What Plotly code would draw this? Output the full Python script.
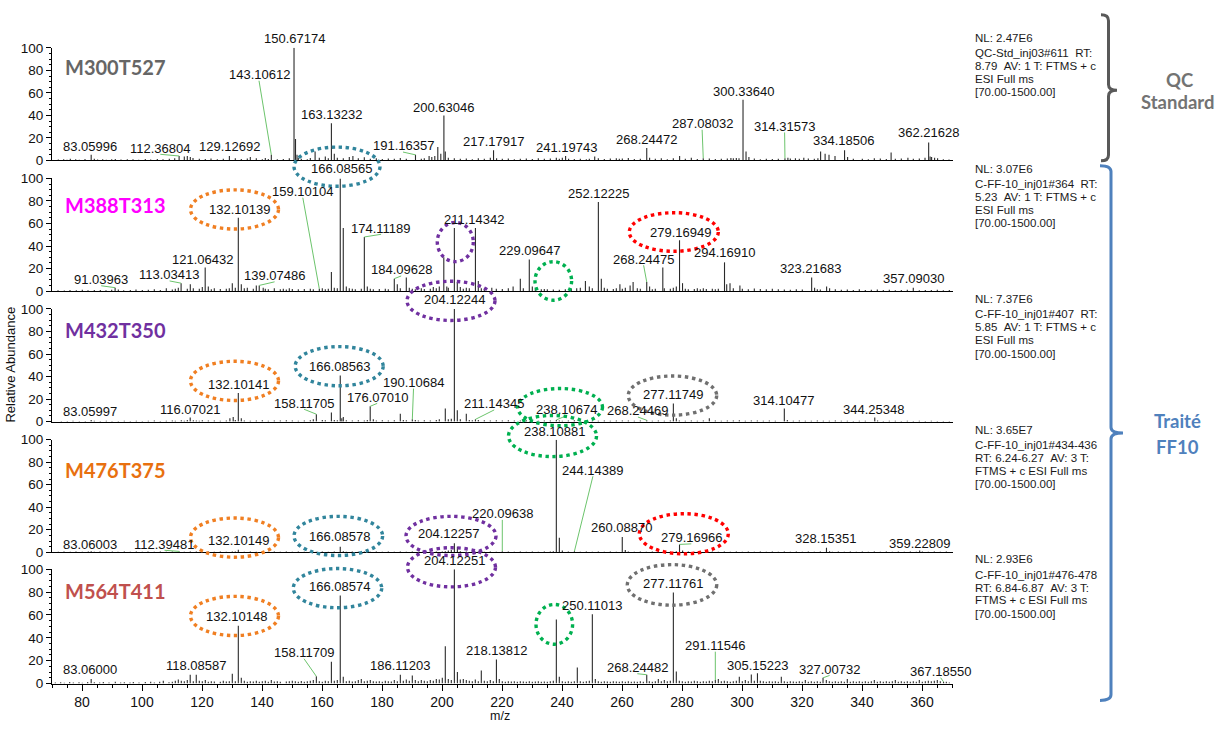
import plotly.graph_objects as go

# ---------------- data ----------------
panel_names = ["M300T527", "M388T313", "M432T350", "M476T375", "M564T411"]
panel_name_colors = ["#666666", "#FF00FF", "#7030A0", "#E8700F", "#C0504D"]

info_nl = ["NL: 2.47E6", "NL: 3.07E6", "NL: 7.37E6", "NL: 3.65E7", "NL: 2.93E6"]
info_lines = [
    ["QC-Std_inj03#611\u00a0\u00a0RT:", "8.79\u00a0\u00a0AV: 1 T: FTMS + c", "ESI Full ms", "[70.00-1500.00]"],
    ["C-FF-10_inj01#364\u00a0\u00a0RT:", "5.23\u00a0\u00a0AV: 1 T: FTMS + c", "ESI Full ms", "[70.00-1500.00]"],
    ["C-FF-10_inj01#407\u00a0\u00a0RT:", "5.85\u00a0\u00a0AV: 1 T: FTMS + c", "ESI Full ms", "[70.00-1500.00]"],
    ["C-FF-10_inj01#434-436", "RT: 6.24-6.27\u00a0\u00a0AV: 3 T:", "FTMS + c ESI Full ms", "[70.00-1500.00]"],
    ["C-FF-10_inj01#476-478", "RT: 6.84-6.87\u00a0\u00a0AV: 3 T:", "FTMS + c ESI Full ms", "[70.00-1500.00]"],
]

# Panel 1 : QC standard
p1_labels = ["83.05996", "112.36804", "129.12692", "143.10612", "150.67174", "163.13232", "191.16357",
             "200.63046", "217.17917", "241.19743", "268.24472", "287.08032", "300.33640", "314.31573",
             "334.18506", "362.21628"]
p1_label_int = [5, 4, 4, 5, 100, 33, 5, 40, 9, 4, 11, 2, 54, 2, 9, 16]
p1_label_x = [82.8, 106.1, 129.2, 139.0, 150.8, 163.1, 187.0, 200.6, 217.0, 241.4, 268.3, 286.7, 300.5,
              314.2, 333.8, 362.0]
p1_label_y = [12.5, 11.0, 12.2, 76.3, 108.2, 40.6, 13.0, 47.0, 16.9, 11.9, 18.9, 32.8, 61.5, 30.4, 17.4, 24.7]
p1_leader = [0, 1, 0, 1, 0, 0, 1, 0, 0, 0, 0, 1, 0, 1, 0, 0]
p1_minor_mz = [72.1, 73.9, 75.0, 76.1, 77.9, 79.1, 81.0, 84.1, 85.2, 86.9, 88.1, 89.9, 91.1, 93.0, 95.1, 97.0,
               98.9, 101.1, 102.9, 105.1, 107.0, 109.1, 110.9, 114.1, 115.1, 116.1, 117.0, 119.1, 121.1, 123.0,
               125.1, 127.1, 131.1, 133.1, 135.1, 136.1, 138.1, 140.1, 141.1, 142.1, 145.1, 147.1, 149.1,
               151.17, 151.67, 152.1, 153.1, 155.1, 156.1, 157.7, 159.1, 161.1, 162.1, 164.1, 165.1, 167.1,
               169.1, 170.3, 172.1, 174.1, 176.1, 178.1, 180.1, 182.1, 184.1, 186.1, 188.1, 193.1, 194.1,
               195.7, 196.6, 197.6, 198.6, 199.6, 201.1, 202.1, 204.1, 206.1, 208.1, 210.1, 212.1, 214.1,
               216.1, 218.2, 220.1, 222.1, 224.1, 226.1, 228.1, 230.1, 232.1, 234.1, 236.1, 238.1, 239.1,
               240.1, 242.2, 244.1, 246.1, 248.1, 249.1, 250.9, 252.1, 254.1, 256.1, 258.1, 259.1, 260.1,
               262.1, 264.1, 266.1, 269.2, 271.1, 273.1, 275.1, 277.1, 279.2, 281.1, 283.1, 285.1, 289.1,
               291.1, 293.1, 295.1, 296.3, 297.1, 298.1, 299.0, 301.34, 302.3, 304.1, 306.1, 308.1, 310.1,
               312.1, 315.3, 316.1, 317.8, 319.1, 320.6, 322.1, 324.1, 325.3, 326.2, 327.7, 329.0, 331.0,
               335.2, 337.1, 340.1, 342.1, 344.1, 346.1, 348.1, 349.7, 351.1, 353.1, 355.3, 357.1, 359.1,
               361.0, 362.7, 363.2, 364.2, 365.2, 367.1, 369.0]
p1_minor_int = [0.8, 1.2, 0.6, 1.5, 1.0, 0.7, 1.3, 1.6, 0.9, 1.1, 0.7, 1.0, 1.4, 0.8, 1.2, 1.0,
                0.6, 1.3, 0.8, 1.4, 1.1, 1.5, 2.0, 3.5, 4.0, 3.0, 2.2, 1.6, 1.3, 1.8,
                1.2, 1.5, 2.0, 1.4, 1.8, 3.0, 1.9, 1.2, 2.2, 1.4, 1.0, 1.3, 2.0,
                19, 5, 2.5, 1.5, 1.2, 2.2, 8, 2.5, 3.5, 2.0, 6.0, 2.5, 2.0,
                3.0, 4.0, 2.0, 2.8, 1.5, 2.0, 1.3, 1.8, 1.5, 2.2, 1.6, 1.5, 2.0,
                4.0, 3.0, 4.0, 12, 6, 8, 2.5, 2.0, 1.5, 1.8, 1.2, 2.0, 1.5,
                2.5, 2.0, 1.5, 1.8, 1.2, 1.6, 1.8, 1.3, 2.0, 1.5, 1.8, 2.4, 1.5,
                2.5, 1.6, 1.4, 1.5, 1.2, 1.6, 3.5, 2.0, 1.3, 1.8, 2.0, 1.5, 1.8,
                2.2, 1.4, 1.6, 2.5, 1.5, 2.0, 1.2, 2.0, 4.0, 1.5, 2.5, 1.4, 1.8,
                1.3, 1.6, 1.8, 2.2, 2.0, 2.2, 2.0, 8, 3, 1.8, 1.2, 1.6, 1.3,
                1.5, 2.5, 1.8, 2.0, 1.6, 2.4, 1.8, 1.6, 2.0, 8, 6, 5, 4,
                3, 1.5, 1.6, 1.2, 2.0, 1.8, 1.4, 7, 1.5, 1.8, 2.5, 1.5, 1.8,
                2.5, 3.5, 3.0, 2.5, 2.0, 1.2, 0.8]

# Panel 2 : M388T313
p2_labels = ["91.03963", "113.03413", "121.06432", "132.10139", "139.07486", "159.10104", "166.08565",
             "174.11189", "184.09628", "211.14342", "229.09647", "252.12225", "268.24475", "279.16949",
             "294.16910", "323.21683", "357.09030"]
p2_label_int = [3, 7, 21, 65, 5, 2, 100, 48, 11, 56, 28, 79, 8, 45, 25.5, 12, 3]
p2_label_x = [86.4, 109.2, 120.3, 132.5, 144.2, 153.6, 166.4, 179.7, 186.4, 210.7, 229.2, 252.0, 267.2,
              279.4, 294.2, 322.7, 357.0]
p2_label_y = [10.2, 14.5, 28.4, 72.4, 13.7, 88.4, 108.7, 55.9, 18.9, 63.7, 36.3, 86.3, 28.4, 52.2, 34.2,
              19.7, 11.0]
p2_leader = [1, 1, 0, 0, 1, 1, 0, 1, 1, 0, 0, 0, 1, 0, 0, 0, 0]
p2_minor_mz = [72.0, 74.1, 76.0, 78.1, 80.1, 82.0, 84.1, 86.1, 88.0, 89.9, 92.1, 93.9, 96.1, 98.0, 100.1,
               102.1, 104.1, 106.1, 108.1, 110.1, 111.1, 112.1, 115.1, 116.1, 117.1, 119.1, 120.1, 122.1,
               123.1, 124.1, 126.1, 128.1, 129.1, 130.1, 131.1, 133.1, 134.1, 135.1, 137.1, 138.1, 140.4,
               141.1, 142.1, 144.1, 146.1, 147.1, 148.1, 149.1, 150.1, 152.1, 154.1, 156.1, 157.1, 160.1,
               161.1, 162.1, 163.13, 164.1, 165.1, 167.09, 168.1, 169.1, 170.1, 171.1, 173.1, 175.1, 176.1,
               177.1, 179.1, 181.1, 182.1, 185.1, 186.1, 188.1, 189.1, 190.1, 191.1, 193.1, 194.1, 196.1,
               197.1, 198.1, 199.1, 200.6, 201.6, 202.1, 204.12, 205.1, 206.1, 207.1, 208.1, 209.1, 212.1,
               213.1, 214.1, 216.6, 218.1, 220.1, 222.1, 223.7, 226.1, 227.1, 230.1, 231.1, 233.1, 234.1,
               235.1, 237.1, 239.1, 241.1, 243.1, 244.9, 246.1, 247.8, 249.1, 250.1, 253.1, 254.1, 255.1,
               257.1, 258.1, 259.3, 260.1, 261.1, 262.7, 263.7, 265.1, 266.1, 269.2, 270.1, 271.1, 273.6,
               274.1, 276.1, 277.1, 278.1, 280.17, 281.1, 282.1, 284.1, 285.1, 286.1, 287.1, 288.1, 290.1,
               291.1, 292.1, 294.9, 296.0, 297.1, 299.3, 300.1, 302.1, 304.1, 306.1, 308.1, 310.1, 312.1,
               314.1, 316.1, 318.1, 320.1, 324.2, 325.1, 326.1, 328.2, 329.2, 331.1, 333.1, 335.1, 337.1,
               339.1, 341.1, 343.1, 345.1, 347.1, 349.1, 351.1, 353.1, 355.1, 359.1, 361.1, 363.1, 365.1,
               367.1, 369.1]
p2_minor_int = [0.8, 0.6, 1.0, 0.7, 1.2, 0.8, 0.9, 1.0, 0.7, 1.2, 1.3, 0.8, 1.0, 1.4, 0.9,
                1.2, 1.5, 1.0, 2.5, 1.3, 2.0, 3.0, 2.0, 6.0, 2.5, 2.0, 3.5, 4.0,
                1.5, 2.5, 1.8, 2.0, 2.5, 7.0, 3.0, 6.0, 2.5, 3.0, 2.0, 5.0, 3.0,
                2.0, 1.5, 2.5, 1.5, 2.0, 1.4, 2.5, 1.8, 1.5, 1.8, 2.0, 1.5, 2.5,
                1.6, 2.0, 17, 3.0, 2.5, 56, 4.0, 2.5, 2.0, 1.5, 2.0, 4.0, 2.0,
                1.5, 1.8, 2.0, 1.5, 6.0, 2.5, 12.0, 3.0, 2.0, 1.5, 2.5, 1.8, 2.0,
                3.5, 2.5, 4.0, 30, 4.0, 3.0, 56, 8.0, 3.5, 2.0, 3.0, 2.5, 9.0,
                2.5, 2.0, 3.0, 2.0, 1.8, 2.5, 4.0, 11.0, 2.5, 4.0, 2.0, 1.5, 1.8,
                1.5, 1.4, 1.2, 1.5, 2.0, 2.5, 3.0, 9.0, 4.0, 2.5, 11.0, 3.0, 2.0,
                1.8, 2.5, 6.0, 2.0, 3.0, 5.0, 8.0, 2.5, 2.0, 4.0, 1.5, 2.0, 21,
                2.5, 2.0, 3.0, 4.0, 7.0, 2.0, 1.5, 1.8, 2.5, 1.5, 2.5, 1.8, 2.0,
                1.6, 2.0, 6.0, 7.0, 2.5, 5.0, 2.0, 1.5, 2.2, 1.8, 1.5, 2.0, 1.6,
                1.4, 1.2, 1.5, 1.3, 3.0, 1.5, 1.4, 4.0, 2.5, 1.5, 1.2, 1.4, 1.0,
                1.5, 1.0, 1.2, 1.4, 1.0, 1.2, 0.8, 1.0, 1.2, 0.8, 1.0, 0.9, 1.2,
                0.8, 1.0]

# Panel 3 : M432T350
p3_labels = ["83.05997", "116.07021", "132.10141", "158.11705", "166.08563", "176.07010", "190.10684",
             "204.12244", "211.14345", "238.10674", "268.24469", "277.11749", "314.10477", "344.25348"]
p3_label_int = [1.5, 3.7, 25.5, 6.6, 41, 13.6, 2, 100, 2, 1.5, 1.2, 16, 11.6, 3.7]
p3_label_x = [82.8, 116.2, 132.2, 154.0, 165.8, 178.4, 190.5, 204.0, 217.4, 241.4, 265.3, 277.0, 313.8, 343.9]
p3_label_y = [8.7, 10.7, 33.3, 16.5, 48.7, 21.7, 34.8, 108.1, 15.9, 10.7, 9.6, 23.7, 18.8, 10.7]
p3_leader = [0, 0, 0, 1, 0, 1, 1, 0, 1, 1, 1, 0, 0, 0]
p3_minor_mz = [73.1, 75.1, 77.0, 79.1, 81.1, 84.1, 86.1, 88.1, 90.0, 92.1, 94.1, 96.1, 98.1, 100.1, 102.1,
               104.1, 106.1, 108.1, 110.1, 111.1, 113.1, 114.1, 115.1, 117.1, 118.1, 119.1, 120.1, 122.1,
               124.1, 126.1, 128.1, 129.3, 130.4, 131.1, 133.1, 134.1, 136.1, 138.1, 140.1, 142.1, 144.1,
               146.1, 148.1, 150.1, 152.1, 154.1, 156.1, 157.1, 160.1, 161.1, 163.13, 164.1, 165.1, 166.6,
               167.1, 168.1, 170.1, 172.1, 174.1, 175.1, 177.1, 178.1, 180.1, 182.1, 184.1, 186.1, 187.1,
               188.1, 191.1, 192.1, 194.1, 196.1, 198.1, 199.1, 201.1, 202.1, 203.1, 205.1, 206.1, 208.1,
               209.1, 210.1, 212.1, 214.1, 216.1, 218.1, 220.1, 222.1, 224.1, 226.1, 228.1, 230.1, 232.1,
               234.1, 236.1, 239.1, 240.1, 242.1, 244.1, 246.1, 248.1, 250.1, 252.1, 254.1, 256.1, 258.1,
               260.1, 262.1, 264.1, 266.1, 270.1, 272.1, 274.1, 276.1, 278.1, 279.1, 281.1, 283.1, 285.1,
               287.1, 289.1, 291.1, 293.1, 295.1, 297.1, 299.1, 301.1, 303.1, 305.1, 307.1, 309.1, 311.1,
               315.1, 317.1, 319.1, 321.1, 323.1, 325.1, 327.1, 329.1, 331.1, 333.1, 335.1, 337.1, 339.1,
               341.1, 345.2, 347.1, 349.1, 351.1, 353.1, 355.1, 357.1, 359.1, 361.1, 363.1, 365.1, 367.1,
               369.1]
p3_minor_int = [0.6, 0.5, 0.7, 0.6, 0.5, 0.7, 0.6, 0.8, 0.5, 0.6, 0.7, 0.5, 0.8, 0.6, 0.7,
                0.9, 0.6, 0.8, 1.0, 0.7, 1.2, 0.8, 1.5, 1.2, 1.0, 0.8, 1.2, 0.9,
                1.0, 0.8, 1.0, 3.0, 4.0, 1.5, 3.0, 1.0, 0.8, 1.0, 1.2, 0.8, 1.0,
                0.9, 1.2, 1.0, 0.8, 1.1, 1.3, 2.0, 1.5, 1.2, 8.0, 1.5, 1.2, 3.0,
                4.0, 1.2, 1.0, 1.2, 1.0, 1.5, 2.0, 1.0, 1.2, 0.9, 1.3, 7.0, 1.5,
                1.2, 1.4, 1.0, 1.2, 1.0, 1.5, 2.0, 11.6, 2.0, 2.5, 10.0, 2.0, 7.0,
                1.5, 1.2, 1.5, 1.2, 1.0, 1.3, 1.0, 1.2, 0.9, 1.1, 1.3, 1.0, 0.8,
                1.0, 1.1, 1.0, 0.8, 1.0, 1.2, 0.9, 1.0, 1.1, 0.8, 0.9, 0.8, 1.0,
                0.9, 1.0, 0.8, 0.9, 0.8, 1.0, 0.8, 1.0, 3.0, 1.0, 0.8, 0.9, 0.8,
                1.0, 3.0, 1.0, 0.8, 1.0, 0.9, 1.2, 0.8, 1.0, 0.9, 0.8, 0.9, 0.8,
                1.5, 0.8, 0.9, 0.7, 0.8, 0.9, 0.7, 0.8, 0.9, 0.7, 0.8, 0.6, 0.8,
                0.7, 1.0, 0.6, 0.8, 0.7, 0.6, 0.8, 0.6, 0.7, 0.6, 0.7, 0.5, 0.6,
                0.5]

# Panel 4 : M476T375
p4_labels = ["83.06003", "112.39481", "132.10149", "166.08578", "204.12257", "220.09638", "238.10881",
             "244.14389", "260.08870", "279.16966", "328.15351", "359.22809"]
p4_label_int = [1, 0.8, 2.3, 5, 8, 1, 100, 1, 13.6, 7, 4, 1.5]
p4_label_x = [82.8, 107.5, 132.2, 165.8, 202.0, 220.1, 237.5, 250.3, 259.7, 283.1, 327.8, 359.2]
p4_label_y = [7.3, 7.3, 10.8, 13.7, 16.9, 34.3, 107.3, 73.0, 21.7, 13.0, 12.5, 7.8]
p4_leader = [0, 1, 0, 0, 0, 1, 0, 1, 0, 1, 0, 0]
p4_minor_mz = [72.1, 74.0, 76.1, 78.0, 80.1, 82.1, 84.1, 86.0, 88.1, 90.1, 92.0, 94.1, 96.1, 98.1, 100.1,
               102.0, 104.1, 106.1, 108.1, 110.1, 114.1, 116.1, 118.1, 120.1, 122.1, 124.1, 126.1, 128.1,
               130.1, 131.1, 134.1, 136.1, 138.1, 140.1, 142.1, 144.1, 146.1, 148.1, 150.1, 152.1, 154.1,
               156.1, 158.1, 160.1, 162.1, 164.1, 167.1, 168.1, 170.1, 172.1, 174.1, 176.1, 178.1, 180.1,
               182.1, 184.1, 186.1, 188.1, 190.1, 192.1, 194.1, 196.1, 198.1, 200.1, 201.1, 202.1, 203.1,
               205.13, 206.1, 208.1, 210.1, 212.1, 214.1, 216.1, 218.1, 222.1, 224.1, 226.1, 228.1, 230.1,
               232.1, 234.1, 236.1, 237.1, 239.11, 240.1, 242.1, 246.1, 248.1, 250.1, 252.1, 254.1, 256.1,
               258.1, 261.09, 262.1, 264.1, 266.1, 268.1, 270.1, 272.1, 274.1, 276.1, 278.1, 280.2, 282.1,
               284.1, 286.1, 288.1, 290.1, 292.1, 294.1, 296.1, 298.1, 300.1, 302.1, 304.1, 306.1, 308.1,
               310.1, 312.1, 314.1, 316.1, 318.1, 320.1, 322.1, 324.1, 326.1, 329.2, 330.1, 332.1, 334.1,
               336.1, 338.1, 340.1, 342.1, 344.1, 346.1, 348.1, 350.1, 352.1, 354.1, 356.1, 358.1, 360.1,
               362.1, 364.1, 366.1, 368.1]
p4_minor_int = [0.5, 0.6, 0.5, 0.6, 0.5, 0.6, 0.5, 0.6, 0.5, 0.6, 0.5, 0.6, 0.5, 0.6, 0.5,
                0.6, 0.5, 0.6, 0.5, 0.6, 0.5, 0.7, 0.6, 0.5, 0.6, 0.5, 0.6, 0.5,
                0.8, 0.6, 0.5, 0.6, 0.5, 0.6, 0.5, 0.6, 0.5, 0.6, 0.5, 0.6, 0.5,
                0.6, 0.5, 0.6, 0.5, 0.6, 1.0, 0.5, 0.6, 0.5, 0.6, 0.5, 0.6, 0.5,
                0.6, 0.5, 0.6, 0.5, 0.6, 0.5, 0.6, 0.5, 0.6, 0.8, 1.0, 1.5, 2.0,
                5.0, 1.0, 0.6, 0.5, 0.6, 0.5, 0.6, 0.5, 0.6, 0.5, 0.6, 0.5, 0.6,
                0.5, 0.6, 0.8, 1.0, 13.0, 1.5, 0.6, 0.5, 0.6, 0.5, 0.6, 0.5, 0.6,
                0.5, 2.0, 0.6, 0.5, 0.6, 0.5, 0.6, 0.5, 0.6, 0.5, 1.0, 1.5, 0.6,
                0.5, 0.6, 0.5, 0.6, 0.5, 0.6, 0.5, 0.6, 0.5, 0.6, 0.5, 0.6, 0.5,
                0.6, 0.5, 0.6, 0.5, 0.6, 0.5, 0.6, 0.5, 0.6, 1.0, 0.5, 0.6, 0.5,
                0.6, 0.5, 0.6, 0.5, 0.6, 0.5, 0.6, 0.5, 0.6, 0.5, 0.6, 0.5, 0.8,
                0.5, 0.6, 0.5, 0.6]

# Panel 5 : M564T411
p5_labels = ["83.06000", "118.08587", "132.10148", "158.11709", "166.08574", "186.11203", "204.12251",
             "218.13812", "250.11013", "268.24482", "277.11761", "291.11546", "305.15223", "327.00732",
             "367.18550"]
p5_label_int = [4, 7.7, 50.5, 6.3, 77, 7.7, 100, 21, 60.6, 7.7, 79.7, 3, 9, 5, 1.5]
p5_label_x = [82.8, 118.1, 131.4, 154.0, 165.8, 186.2, 204.1, 218.1, 250.3, 265.1, 277.0, 291.1, 305.1,
              329.2, 366.2]
p5_label_y = [12.0, 15.4, 58.3, 27.2, 84.8, 15.4, 107.7, 29.1, 68.6, 14.1, 87.7, 33.4, 15.9, 12.6, 10.6]
p5_leader = [0, 0, 0, 1, 0, 0, 0, 0, 0, 1, 0, 1, 0, 1, 1]
p5_minor_mz = [71.1, 72.9, 74.1, 75.9, 77.1, 79.0, 80.1, 81.9, 84.1, 85.9, 87.1, 89.0, 91.1, 92.9, 94.1,
               96.0, 97.1, 99.0, 101.1, 102.9, 104.1, 105.9, 107.1, 109.0, 110.1, 111.1, 112.1, 113.1,
               114.1, 115.1, 116.07, 117.1, 119.1, 120.1, 121.1, 122.1, 123.1, 124.1, 126.1, 127.1, 128.1,
               129.1, 130.1, 131.1, 133.1, 134.1, 135.1, 136.1, 137.1, 138.1, 139.1, 140.1, 141.1, 142.1,
               143.1, 144.1, 145.1, 146.1, 148.1, 149.1, 150.1, 151.1, 152.1, 153.1, 154.1, 155.1, 156.1,
               157.1, 159.1, 160.1, 161.1, 162.1, 163.13, 164.1, 165.1, 167.09, 168.1, 169.1, 170.1, 171.1,
               172.1, 173.1, 174.1, 175.1, 176.1, 177.1, 178.1, 179.1, 180.1, 181.1, 182.1, 183.1, 184.1,
               185.1, 187.1, 188.1, 189.1, 190.1, 191.1, 192.1, 193.1, 194.1, 195.1, 196.1, 197.1, 198.1,
               199.1, 200.1, 201.1, 202.1, 203.1, 205.13, 206.1, 207.1, 208.1, 209.1, 210.1, 211.1, 212.1,
               213.1, 214.1, 215.1, 216.1, 217.1, 219.1, 220.1, 221.1, 222.1, 223.1, 224.1, 225.1, 226.1,
               227.1, 228.1, 229.1, 230.1, 231.1, 232.1, 233.1, 234.1, 235.1, 236.1, 237.1, 238.11, 239.1,
               240.1, 241.1, 242.1, 243.1, 244.1, 245.1, 246.1, 247.1, 248.1, 249.1, 251.1, 252.1, 253.1,
               254.1, 255.1, 256.1, 257.1, 258.1, 259.1, 260.1, 261.1, 262.1, 263.1, 264.1, 265.1, 266.1,
               267.1, 269.1, 270.1, 271.1, 272.1, 273.1, 274.1, 275.1, 276.1, 278.1, 279.1, 280.1, 281.1,
               282.1, 283.1, 284.1, 285.1, 286.1, 287.1, 288.1, 289.1, 290.1, 292.1, 293.1, 294.1, 295.1,
               296.1, 297.1, 298.1, 299.1, 300.1, 301.1, 302.1, 303.1, 304.1, 306.1, 307.1, 308.1, 309.1,
               310.1, 311.1, 312.1, 313.1, 314.1, 315.1, 316.1, 317.1, 318.1, 319.1, 320.1, 321.1, 322.1,
               323.1, 324.1, 325.1, 326.1, 328.1, 329.1, 330.1, 331.1, 332.1, 333.1, 334.1, 335.1, 336.1,
               337.1, 338.1, 339.1, 340.1, 341.1, 342.1, 343.1, 344.1, 345.1, 346.1, 347.1, 348.1, 349.1,
               350.1, 351.1, 352.1, 353.1, 354.1, 355.1, 356.1, 357.1, 358.1, 359.1, 360.1, 361.1, 362.1,
               363.1, 364.1, 365.1, 366.1, 368.1, 369.1]
p5_minor_int = [1.0, 1.2, 0.8, 1.3, 0.9, 1.1, 0.8, 1.4, 1.2, 0.9, 1.3, 1.0, 1.5, 1.0, 1.2,
                0.9, 1.4, 1.0, 1.3, 1.5, 1.0, 1.6, 2.5, 1.2, 1.5, 2.5, 3.5, 2.5,
                2.0, 3.0, 7.7, 2.0, 2.5, 2.0, 3.0, 1.5, 2.0, 1.8, 1.5, 2.5, 1.8,
                2.0, 8.6, 2.0, 5.0, 2.5, 1.5, 2.0, 1.8, 2.5, 1.5, 2.0, 2.5, 1.5,
                3.0, 1.8, 2.0, 1.5, 1.8, 2.0, 2.5, 2.0, 1.5, 2.2, 1.5, 2.0, 2.5,
                3.0, 2.0, 1.5, 2.5, 2.0, 19.0, 2.5, 3.0, 6.0, 2.0, 2.5, 1.8, 2.0,
                3.0, 4.0, 2.0, 2.5, 3.0, 2.0, 1.8, 2.0, 1.5, 2.5, 2.0, 1.8, 3.0,
                2.0, 2.5, 3.5, 2.5, 7.0, 3.0, 2.0, 3.0, 2.5, 2.0, 3.0, 2.5, 4.0,
                3.5, 5.0, 32.6, 4.0, 3.0, 10.0, 3.5, 4.0, 3.0, 2.5, 2.0, 3.5, 2.0,
                11.5, 2.5, 2.0, 3.0, 2.0, 4.0, 2.0, 1.5, 2.0, 1.8, 2.0, 1.5, 2.0,
                1.8, 1.5, 2.0, 1.5, 1.8, 2.0, 1.5, 1.8, 1.5, 2.0, 2.5, 56.0, 6.0,
                2.0, 1.5, 2.0, 1.5, 2.0, 14.0, 2.0, 1.5, 2.0, 2.5, 4.0, 2.0, 1.5,
                2.0, 1.8, 1.5, 2.0, 1.8, 1.5, 2.0, 1.5, 2.0, 1.6, 1.8, 1.5, 2.0,
                1.5, 2.0, 1.5, 2.0, 4.0, 2.0, 3.0, 2.0, 2.5, 10.6, 2.5, 2.0, 1.5,
                2.0, 1.8, 2.5, 2.0, 1.5, 2.0, 1.8, 2.5, 2.0, 4.0, 2.0, 2.5, 2.0,
                1.5, 2.0, 2.5, 6.0, 2.0, 3.0, 2.0, 8.0, 2.5, 2.5, 2.0, 1.5, 2.0,
                1.8, 2.0, 1.5, 6.0, 2.0, 1.5, 2.0, 1.8, 1.5, 2.0, 1.5, 3.0, 1.5,
                2.0, 1.5, 2.0, 1.5, 3.0, 2.0, 1.5, 2.0, 1.5, 2.0, 1.5, 4.0, 1.5,
                2.0, 1.5, 2.0, 1.5, 2.0, 1.5, 2.0, 3.0, 1.5, 2.0, 1.5, 2.0, 1.5,
                2.0, 3.0, 1.5, 2.0, 1.5, 2.0, 1.5, 2.0, 1.5, 3.0, 1.5, 2.0, 2.5,
                2.0, 2.5, 3.0, 2.0, 1.5, 1.0]

x_tick_values = [80, 100, 120, 140, 160, 180, 200, 220, 240, 260, 280, 300, 320, 340, 360]
y_tick_values = [0, 20, 40, 60, 80, 100]

panels = [
    (p1_labels, p1_label_int, p1_label_x, p1_label_y, p1_leader, p1_minor_mz, p1_minor_int),
    (p2_labels, p2_label_int, p2_label_x, p2_label_y, p2_leader, p2_minor_mz, p2_minor_int),
    (p3_labels, p3_label_int, p3_label_x, p3_label_y, p3_leader, p3_minor_mz, p3_minor_int),
    (p4_labels, p4_label_int, p4_label_x, p4_label_y, p4_leader, p4_minor_mz, p4_minor_int),
    (p5_labels, p5_label_int, p5_label_x, p5_label_y, p5_leader, p5_minor_mz, p5_minor_int),
]

# ---------------- layout geometry ----------------
W, H = 1229, 732
ML, MR = 52, 276
PW = W - ML - MR
X_RANGE = [70, 370.33]
PANEL_PX = [(41.7, 156.7), (175.0, 290.0), (308.3, 423.3), (441.7, 556.7), (574.0, 690.7)]
NAME_PY = [61, 201.7, 330, 472.7, 596.7]
INFO_OFFSETS = [15.5, 28.8, 41.8, 55.5]

FONT = "Arial, Liberation Sans, sans-serif"
BOLD_FONT = "Lato, Open Sans, sans-serif"


def px_x(px):
    return (px - ML) / PW


def px_y(py):
    return 1 - py / H


def val_y(k, v):
    top, bot = PANEL_PX[k]
    return px_y(bot) + (v / 100.0) * (bot - top) / H


fig = go.Figure()
layout = {}
annotations = []
shapes = []

for k, (labels, lab_int, lab_x, lab_y, leader, mmz, mint) in enumerate(panels):
    ax = "" if k == 0 else str(k + 1)
    all_mz = [float(t) for t in labels] + list(mmz)
    all_int = list(lab_int) + list(mint)
    xs, ys = [], []
    for m, v in zip(all_mz, all_int):
        xs += [m, m, None]
        ys += [0, v, None]
    fig.add_trace(go.Scatter(x=xs, y=ys, mode="lines", line=dict(color="#2a2a2a", width=1.1),
                             xaxis="x" + ax, yaxis="y" + ax, hoverinfo="skip", showlegend=False))
    lx, ly = [], []
    for t, h, tx, ty, ld in zip(labels, lab_int, lab_x, lab_y, leader):
        if ld:
            lx += [tx, float(t), None]
            ly += [ty - 5.5, h, None]
        annotations.append(dict(x=tx, y=val_y(k, ty), xref="x" + ax, yref="paper", text=t,
                                showarrow=False, xanchor="center", yanchor="middle",
                                font=dict(family=FONT, size=13, color="#111111")))
    fig.add_trace(go.Scatter(x=lx, y=ly, mode="lines", line=dict(color="#6CC46C", width=1),
                             xaxis="x" + ax, yaxis="y" + ax, hoverinfo="skip", showlegend=False))

    top, bot = PANEL_PX[k]
    last = (k == len(panels) - 1)
    xa = dict(domain=[0, 1], range=X_RANGE, anchor="y" + ax, showline=True, linecolor="black",
              linewidth=1, showgrid=False, zeroline=False, fixedrange=True)
    if last:
        xa.update(tickmode="array", tickvals=x_tick_values, ticks="outside", ticklen=6,
                  tickcolor="black", showticklabels=True,
                  tickfont=dict(family=FONT, size=14, color="#111111"),
                  minor=dict(dtick=5, tick0=0, ticks="outside", ticklen=3, tickcolor="black"))
    else:
        xa.update(ticks="", showticklabels=False)
    layout["xaxis" + ax] = xa
    layout["yaxis" + ax] = dict(domain=[px_y(bot), px_y(top)], range=[0, 100], anchor="x" + ax,
                                showline=True, linecolor="black", linewidth=1, showgrid=False,
                                zeroline=False, tickmode="array", tickvals=y_tick_values,
                                ticks="outside", ticklen=5, tickcolor="black", fixedrange=True,
                                tickfont=dict(family=FONT, size=13.5, color="#111111"),
                                minor=dict(dtick=5, tick0=0, ticks="outside", ticklen=2.5,
                                           tickcolor="black"))

    # compound name
    annotations.append(dict(x=px_x(63), y=px_y(NAME_PY[k]), xref="paper", yref="paper",
                            text="<b>" + panel_names[k] + "</b>", showarrow=False,
                            xanchor="left", yanchor="middle",
                            font=dict(family=BOLD_FONT, size=20, color=panel_name_colors[k])))
    # scan info text
    nl_py = top - 10
    annotations.append(dict(x=px_x(973), y=px_y(nl_py), xref="paper", yref="paper",
                            text=info_nl[k], showarrow=False, xanchor="left", yanchor="middle",
                            font=dict(family=FONT, size=11.5, color="#1a1a1a")))
    for off, line in zip(INFO_OFFSETS, info_lines[k]):
        annotations.append(dict(x=px_x(973), y=px_y(nl_py + off), xref="paper", yref="paper",
                                text=line, showarrow=False, xanchor="left", yanchor="middle",
                                font=dict(family=FONT, size=11.5, color="#1a1a1a")))

# axis titles
annotations.append(dict(x=px_x(11), y=px_y(365), xref="paper", yref="paper", text="Relative Abundance",
                        textangle=-90, showarrow=False, xanchor="center", yanchor="middle",
                        font=dict(family=FONT, size=13, color="#111111")))
annotations.append(dict(x=px_x(500), y=px_y(724), xref="paper", yref="paper", text="m/z",
                        showarrow=False, xanchor="center", yanchor="middle",
                        font=dict(family=FONT, size=12.5, color="#111111")))

# group labels
for txt, cx, cy, col in [("QC", 1180, 75, "#737373"), ("Standard", 1177, 97, "#737373"),
                         ("Traité", 1177, 423, "#4F81BD"), ("FF10", 1177, 449, "#4F81BD")]:
    annotations.append(dict(x=px_x(cx), y=px_y(cy), xref="paper", yref="paper", text="<b>" + txt + "</b>",
                            showarrow=False, xanchor="center", yanchor="middle",
                            font=dict(family=BOLD_FONT, size=18.5, color=col)))

# dotted ellipses (pixel centre, radii)
ELLIPSES = [
    (337, 163, 43, 20, "#31859C"), (234.5, 206.7, 44, 20, "#F07F22"), (455.3, 240, 18, 20, "#7030A0"),
    (553.3, 279.7, 18.3, 19.7, "#00B050"), (673.8, 229.7, 44.5, 19.7, "#FF0000"),
    (451, 300, 44, 20, "#7030A0"), (234.5, 381.7, 44, 20, "#F07F22"), (339.2, 366.7, 44, 20, "#31859C"),
    (672.5, 396.7, 44.2, 20, "#707070"), (560, 408.5, 42.5, 19, "#00B050"),
    (552.5, 438, 44, 21, "#00B050"), (234.5, 541.7, 44, 20, "#F07F22"), (338.3, 540, 44.3, 20, "#31859C"),
    (451, 540, 45, 20, "#7030A0"), (683.8, 537.8, 44.5, 20.5, "#FF0000"),
    (451.5, 572, 44, 20, "#7030A0"), (234.5, 621.7, 44, 20, "#F07F22"), (337.5, 593.3, 44.2, 20, "#31859C"),
    (554.3, 630.3, 18.3, 20.3, "#00B050"), (672, 590, 44.7, 20.7, "#707070"),
]
for cx, cy, rx, ry, col in ELLIPSES:
    shapes.append(dict(type="circle", xref="paper", yref="paper",
                       x0=px_x(cx - rx), x1=px_x(cx + rx), y0=px_y(cy + ry), y1=px_y(cy - ry),
                       line=dict(color=col, width=3.4, dash="3.4px,3.6px"), layer="above"))


def brace(xv, top, bot, hook, mid, tip, r=6):
    pts = [("M", hook, top), ("Q", xv, top, xv, top + r), ("L", xv, mid - r),
           ("Q", xv, mid, tip, mid), ("Q", xv, mid, xv, mid + r), ("L", xv, bot - r),
           ("Q", xv, bot, hook, bot)]
    out = []
    for p in pts:
        cmd = p[0]
        coords = p[1:]
        s = []
        for i in range(0, len(coords), 2):
            s.append("%.5f,%.5f" % (px_x(coords[i]), px_y(coords[i + 1])))
        out.append(cmd + " " + " ".join(s))
    return " ".join(out)


shapes.append(dict(type="path", xref="paper", yref="paper", path=brace(1108.5, 8, 157, 1101, 85, 1117),
                   line=dict(color="#595959", width=3)))
shapes.append(dict(type="path", xref="paper", yref="paper", path=brace(1111, 162, 708, 1100, 435, 1123),
                   line=dict(color="#4F81BD", width=3)))

fig.update_layout(width=W, height=H, margin=dict(l=ML, r=MR, t=0, b=0),
                  paper_bgcolor="white", plot_bgcolor="rgba(0,0,0,0)",
                  annotations=annotations, shapes=shapes, showlegend=False, **layout)
fig.write_html("out.html", config={"displayModeBar": False, "staticPlot": True},
               post_script="document.body.style.margin='0';document.body.style.overflow='hidden';")
